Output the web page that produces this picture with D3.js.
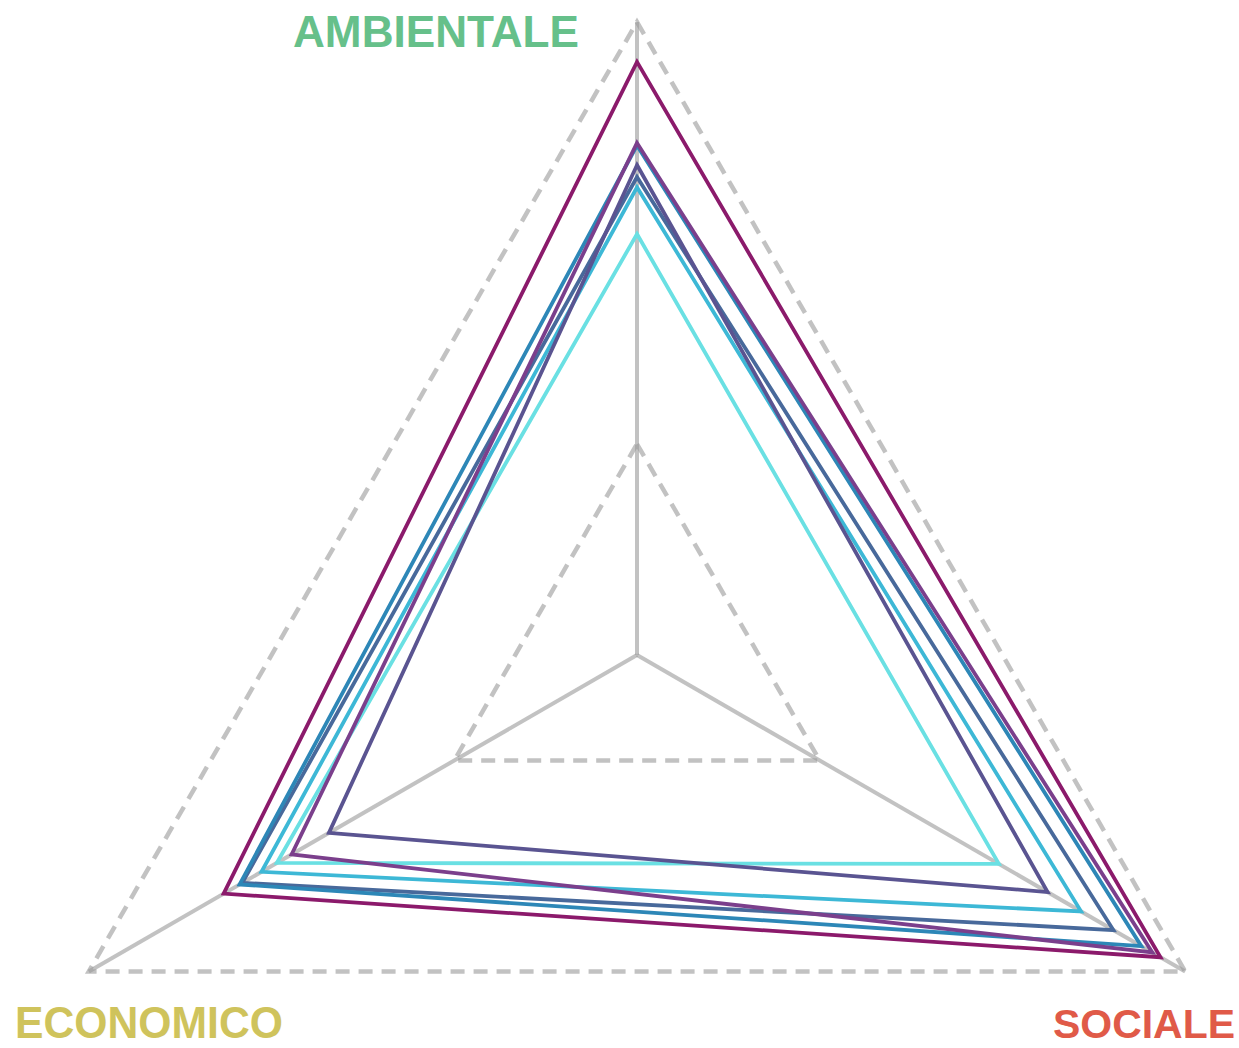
<!DOCTYPE html>
<html>
<head>
<meta charset="utf-8">
<script src="https://cdn.jsdelivr.net/npm/d3@7"></script>
<style>
  body { margin: 0; background: #fff; }
  svg text { font-family: "Liberation Sans", Arial, sans-serif; font-weight: 700; }
</style>
</head>
<body>
<div id="chart"></div>
<script>
// axes, clockwise from the top
var axisNames  = ["AMBIENTALE", "SOCIALE", "ECONOMICO"],
    axisColors = ["#66c08a", "#e05a48", "#cfc35c"],
    gridLevels = [1/3, 1]

// one value per series on each axis (0..1)
var seriesColors = ["#6ae0e3", "#3db8d6", "#48699b", "#5a5491", "#2d87b7", "#7b3f8c", "#8b1a6b"],
    ambientale   = [0.665, 0.739, 0.755, 0.774, 0.805, 0.809, 0.937],
    sociale      = [0.660, 0.810, 0.869, 0.749, 0.920, 0.940, 0.955],
    economico    = [0.657, 0.685, 0.720, 0.562, 0.725, 0.630, 0.754]

var width = 1239, height = 1048,
    cx = 637, cy = 655, radius = 633

var svg = d3.select("#chart").append("svg")
  .attr("width", width)
  .attr("height", height)

var r = d3.scaleLinear().domain([0, 1]).range([0, radius])

var angle = i => -Math.PI / 2 + i * 2 * Math.PI / axisNames.length

var pt = (v, i) => [cx + r(v) * Math.cos(angle(i)), cy + r(v) * Math.sin(angle(i))]

var line = d3.line().curve(d3.curveLinearClosed)

// grid triangles
svg.append("g").selectAll("path")
  .data(gridLevels)
  .join("path")
    .attr("d", lv => line(axisNames.map((a, i) => pt(lv, i))))
    .attr("fill", "none")
    .attr("stroke", "#999")
    .attr("stroke-opacity", 0.6)
    .attr("stroke-width", 4.5)
    .attr("stroke-dasharray", "14,9")

// spokes
svg.append("g").selectAll("line")
  .data(axisNames)
  .join("line")
    .attr("x1", cx)
    .attr("y1", cy)
    .attr("x2", (d, i) => pt(1, i)[0])
    .attr("y2", (d, i) => pt(1, i)[1])
    .attr("stroke", "#999")
    .attr("stroke-opacity", 0.6)
    .attr("stroke-width", 4)

// series
var series = seriesColors.map((c, k) => ({ color: c, values: [ambientale[k], sociale[k], economico[k]] }))

svg.append("g").selectAll("path")
  .data(series)
  .join("path")
    .attr("d", s => line(s.values.map((v, i) => pt(v, i))))
    .attr("fill", "none")
    .attr("stroke", s => s.color)
    .attr("stroke-width", 3.8)
    .attr("stroke-linejoin", "miter")

// axis labels
var labelPos = [
  { x: 579,  y: 47,   anchor: "end",   len: 286, size: 44 },
  { x: 1235, y: 1038, anchor: "end",   len: 182, size: 41 },
  { x: 15,   y: 1038, anchor: "start", len: 268, size: 44 }
]

svg.append("g").selectAll("text")
  .data(axisNames)
  .join("text")
    .attr("x", (d, i) => labelPos[i].x)
    .attr("y", (d, i) => labelPos[i].y)
    .attr("text-anchor", (d, i) => labelPos[i].anchor)
    .attr("textLength", (d, i) => labelPos[i].len)
    .attr("lengthAdjust", "spacingAndGlyphs")
    .attr("font-size", (d, i) => labelPos[i].size)
    .attr("fill", (d, i) => axisColors[i])
    .text(d => d)
</script>
</body>
</html>
